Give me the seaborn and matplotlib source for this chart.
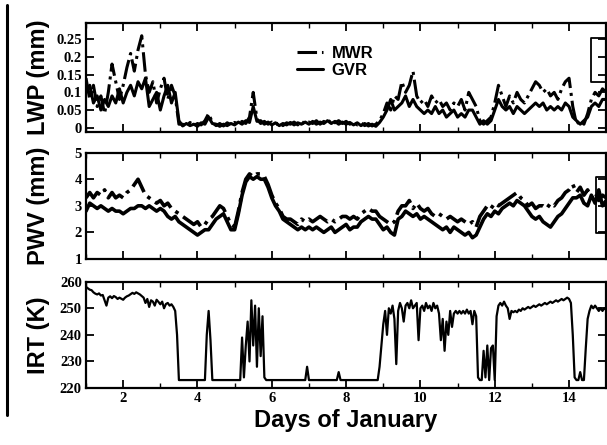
import numpy as np
import pandas as pd
import matplotlib
matplotlib.use("Agg")
import matplotlib.pyplot as plt
from matplotlib.lines import Line2D
from matplotlib.ticker import MultipleLocator
from matplotlib.font_manager import FontProperties
import seaborn as sns

# ---- time axes (days of January) ----
days = np.round(np.arange(1.0, 15.0001, 0.1), 1)        # 0.1-day sampling for LWP / PWV
irt_days = np.round(np.arange(1.0, 15.0001, 0.05), 2)   # 0.05-day sampling for IRT

# ---- liquid water path (mm) ----
lwp_mwr = [
    0.14, 0.08, 0.12, 0.06, 0.09, 0.04, 0.10, 0.18, 0.13, 0.08,
    0.12, 0.17, 0.21, 0.16, 0.22, 0.26, 0.15, 0.10, 0.13, 0.07,
    0.11, 0.14, 0.08, 0.12, 0.09, 0.01, 0.010, 0.005, 0.015, 0.006,
    0.012, 0.008, 0.020, 0.040, 0.015, 0.006, 0.012, 0.005, 0.014, 0.008,
    0.015, 0.010, 0.018, 0.012, 0.030, 0.100, 0.025, 0.012, 0.018, 0.010,
    0.016, 0.008, 0.015, 0.006, 0.014, 0.010, 0.016, 0.008, 0.018, 0.010,
    0.016, 0.012, 0.020, 0.010, 0.018, 0.012, 0.022, 0.014, 0.020, 0.012,
    0.018, 0.010, 0.016, 0.008, 0.014, 0.006, 0.012, 0.005, 0.010, 0.020,
    0.04, 0.07, 0.05, 0.09, 0.08, 0.13, 0.10, 0.12, 0.16, 0.09,
    0.07, 0.08, 0.06, 0.09, 0.07, 0.08, 0.06, 0.07, 0.05, 0.07,
    0.06, 0.08, 0.05, 0.10, 0.08, 0.06, 0.02, 0.01, 0.02, 0.03,
    0.07, 0.12, 0.09, 0.06, 0.09, 0.07, 0.10, 0.08, 0.07, 0.09,
    0.11, 0.13, 0.12, 0.10, 0.11, 0.09, 0.10, 0.08, 0.11, 0.13,
    0.14, 0.06, 0.01, 0.02, 0.01, 0.04, 0.08, 0.10, 0.09, 0.11,
    0.10,
]
lwp_gvr = [
    0.10, 0.12, 0.07, 0.09, 0.05, 0.08, 0.06, 0.09, 0.07, 0.11,
    0.07, 0.10, 0.12, 0.09, 0.13, 0.11, 0.14, 0.06, 0.08, 0.10,
    0.05, 0.09, 0.12, 0.07, 0.10, 0.02, 0.005, 0.012, 0.006, 0.010,
    0.004, 0.014, 0.010, 0.030, 0.012, 0.010, 0.004, 0.010, 0.006, 0.012,
    0.008, 0.016, 0.010, 0.020, 0.015, 0.060, 0.018, 0.020, 0.010, 0.016,
    0.008, 0.014, 0.006, 0.012, 0.008, 0.015, 0.008, 0.014, 0.010, 0.016,
    0.010, 0.018, 0.010, 0.016, 0.012, 0.020, 0.012, 0.018, 0.010, 0.016,
    0.010, 0.015, 0.008, 0.014, 0.006, 0.012, 0.005, 0.010, 0.004, 0.015,
    0.03, 0.05, 0.08, 0.05, 0.06, 0.07, 0.09, 0.06, 0.08, 0.06,
    0.05, 0.04, 0.05, 0.04, 0.06, 0.04, 0.05, 0.03, 0.04, 0.05,
    0.03, 0.04, 0.03, 0.05, 0.05, 0.03, 0.01, 0.02, 0.01, 0.02,
    0.05, 0.08, 0.06, 0.05, 0.06, 0.04, 0.06, 0.05, 0.04, 0.05,
    0.06, 0.07, 0.06, 0.07, 0.05, 0.06, 0.05, 0.06, 0.05, 0.07,
    0.06, 0.03, 0.02, 0.01, 0.02, 0.03, 0.06, 0.07, 0.06, 0.08,
    0.08,
]
# instrument flag bracket at the end of the LWP record
lwp_flag_days = [15.3, 14.59, 14.59, 15.3]
lwp_flag_vals = [0.253, 0.253, 0.128, 0.128]

# ---- precipitable water vapour (mm) ----
pwv_mwr = [
    3.3, 3.5, 3.3, 3.5, 3.4, 3.6, 3.3, 3.5, 3.3, 3.4,
    3.3, 3.5, 3.6, 3.8, 4.0, 3.7, 3.4, 3.3, 3.2, 3.1,
    3.2, 3.0, 3.1, 2.9, 2.8, 2.7, 2.6, 2.5, 2.4, 2.3,
    2.4, 2.2, 2.3, 2.5, 2.6, 2.8, 3.0, 2.9, 2.6, 2.3,
    2.2, 2.8, 3.5, 4.0, 4.2, 4.1, 4.2, 4.2, 4.1, 3.8,
    3.4, 3.1, 2.9, 2.6, 2.5, 2.5, 2.4, 2.3, 2.5, 2.4,
    2.5, 2.4, 2.5, 2.6, 2.5, 2.4, 2.5, 2.4, 2.5, 2.6,
    2.6, 2.5, 2.6, 2.5, 2.7, 2.8, 2.9, 2.8, 2.8, 2.6,
    2.5, 2.4, 2.3, 2.4, 2.8, 3.0, 3.0, 3.2, 2.9, 3.1,
    2.9, 2.8, 2.9, 2.7, 2.6, 2.7, 2.6, 2.5, 2.6, 2.5,
    2.4, 2.5, 2.4, 2.3, 2.4, 2.2, 2.6, 2.8, 3.0, 2.9,
    3.1, 3.0, 3.1, 3.2, 3.3, 3.4, 3.5, 3.3, 3.2, 3.0,
    3.1, 2.9, 3.0, 3.0, 2.9, 3.1, 3.0, 3.2, 3.3, 3.5,
    3.6, 3.8, 3.5, 3.7, 3.4, 3.6, 3.3, 3.5, 3.2, 3.4,
    3.3,
]
pwv_gvr = [
    2.8, 3.1, 3.0, 2.9, 3.0, 2.9, 2.8, 2.9, 2.8, 2.8,
    2.7, 2.8, 2.9, 2.9, 3.0, 3.0, 2.9, 3.0, 2.9, 2.8,
    2.9, 2.8, 2.6, 2.5, 2.6, 2.4, 2.3, 2.2, 2.1, 2.0,
    1.9, 2.0, 2.1, 2.1, 2.3, 2.5, 2.6, 2.7, 2.4, 2.1,
    2.1, 2.7, 3.4, 3.9, 4.1, 4.0, 4.1, 4.0, 4.0, 3.7,
    3.3, 3.0, 2.8, 2.5, 2.4, 2.3, 2.2, 2.1, 2.2, 2.1,
    2.2, 2.1, 2.2, 2.1, 2.0, 2.1, 2.2, 2.0, 2.1, 2.2,
    2.3, 2.1, 2.2, 2.2, 2.4, 2.5, 2.6, 2.5, 2.5, 2.3,
    2.1, 2.2, 2.0, 1.9, 2.5, 2.6, 2.8, 2.7, 2.6, 2.7,
    2.5, 2.6, 2.5, 2.4, 2.3, 2.2, 2.1, 2.2, 2.0, 2.2,
    2.1, 2.0, 1.9, 2.0, 1.8, 1.9, 2.2, 2.5, 2.7, 2.6,
    2.8, 2.7, 2.9, 3.0, 3.1, 3.0, 3.2, 3.1, 3.0, 2.8,
    2.6, 2.5, 2.6, 2.4, 2.3, 2.2, 2.4, 2.6, 2.7, 2.9,
    3.1, 3.3, 3.3, 3.4, 3.1, 3.0, 3.4, 3.1, 3.6, 3.0,
    3.2,
]
pwv_flag_days = [15.3, 14.72, 14.72, 15.3]
pwv_flag_vals = [4.08, 4.08, 1.97, 1.97]

# ---- infrared radiometer brightness temperature (K) ----
irt = [
    258.0, 257.5, 257.0, 256.8, 256.0, 255.5, 255.2, 255.6, 254.8, 255.0,
    253.0, 251.0, 254.0, 254.5, 253.8, 254.6, 254.2, 253.5, 254.0, 253.6,
    253.2, 254.0, 254.5, 254.8, 255.3, 255.8, 255.4, 256.0, 255.6, 255.2,
    254.6, 254.0, 252.0, 253.5, 250.5, 253.0, 252.5, 251.0, 253.2, 252.4,
    251.5, 252.5, 250.0, 251.6, 252.0, 251.0, 251.5, 250.5, 249.0, 240.0,
    223.0, 223.0, 223.0, 223.0, 223.0, 223.0, 223.0, 223.0, 223.0, 223.0,
    223.0, 223.0, 223.0, 223.0, 223.0, 240.0, 249.0, 238.0, 223.0, 223.0,
    223.0, 223.0, 223.0, 223.0, 223.0, 223.0, 223.0, 223.0, 223.0, 223.0,
    223.0, 223.0, 223.0, 223.0, 239.0, 224.0, 236.0, 245.0, 230.0, 253.0,
    236.0, 251.0, 228.0, 250.0, 232.0, 247.0, 224.0, 223.0, 223.0, 223.0,
    223.0, 223.0, 223.0, 223.0, 223.0, 223.0, 223.0, 223.0, 223.0, 223.0,
    223.0, 223.0, 223.0, 223.0, 223.0, 223.0, 223.0, 223.0, 223.0, 228.0,
    223.0, 223.0, 223.0, 223.0, 223.0, 223.0, 223.0, 223.0, 223.0, 223.0,
    223.0, 223.0, 223.0, 223.0, 223.0, 223.0, 226.0, 223.0, 223.0, 223.0,
    223.0, 223.0, 223.0, 223.0, 223.0, 223.0, 223.0, 223.0, 223.0, 223.0,
    223.0, 223.0, 223.0, 223.0, 223.0, 223.0, 223.0, 223.0, 228.0, 236.0,
    244.0, 249.0, 240.0, 250.0, 248.0, 251.0, 246.0, 229.0, 249.0, 252.0,
    250.0, 245.0, 251.0, 252.0, 250.0, 253.0, 250.0, 251.0, 252.0, 238.0,
    250.0, 251.0, 249.0, 252.0, 250.0, 251.0, 249.0, 252.0, 250.0, 251.0,
    248.0, 238.0, 246.0, 234.0, 245.0, 240.0, 249.0, 243.0, 248.0, 249.0,
    248.0, 249.0, 248.0, 249.0, 248.0, 249.5, 248.0, 249.0, 244.0, 249.0,
    247.0, 224.0, 223.0, 223.0, 234.0, 224.0, 236.0, 223.0, 235.0, 236.0,
    223.0, 247.0, 251.0, 252.0, 251.0, 252.5, 251.0, 250.0, 246.0, 249.0,
    248.5, 249.0, 248.5, 249.5, 249.0, 250.0, 249.5, 250.0, 250.5, 250.0,
    250.5, 251.0, 250.5, 251.0, 251.5, 251.0, 251.5, 252.0, 251.5, 252.0,
    252.5, 252.0, 252.5, 253.0, 252.5, 253.0, 253.5, 253.0, 253.5, 254.0,
    253.5, 252.0, 240.0, 224.0, 223.0, 223.0, 226.0, 223.0, 223.0, 235.0,
    246.0, 249.0, 251.0, 250.0, 251.0, 250.0, 249.0, 250.0, 249.0, 250.0,
    249.5,
]

# ---- axis ticks / labels ----
lwp_ticks = [0, 0.05, 0.1, 0.15, 0.2, 0.25]
lwp_tick_labels = ["0", "0.05", "0.1", "0.15", "0.2", "0.25"]
pwv_ticks = [1, 2, 3, 4, 5]
pwv_tick_labels = ["1", "2", "3", "4", "5"]
irt_ticks = [220, 230, 240, 250, 260]
irt_tick_labels = ["220", "230", "240", "250", "260"]
day_ticks = [2, 4, 6, 8, 10, 12, 14]
day_tick_labels = ["2", "4", "6", "8", "10", "12", "14"]

lwp_df = pd.DataFrame({"day": days, "MWR": lwp_mwr, "GVR": lwp_gvr})
pwv_df = pd.DataFrame({"day": days, "MWR": pwv_mwr, "GVR": pwv_gvr})
irt_df = pd.DataFrame({"day": irt_days, "IRT": irt})
lwp_flag = pd.DataFrame({"day": lwp_flag_days, "val": lwp_flag_vals})
pwv_flag = pd.DataFrame({"day": pwv_flag_days, "val": pwv_flag_vals})

sns.set_style("ticks")
plt.rcParams.update({
    "font.family": ["Liberation Sans", "DejaVu Sans"],
    "axes.linewidth": 1.6,
    "axes.edgecolor": "black",
    "axes.labelcolor": "black",
    "text.color": "black",
    "xtick.color": "black",
    "ytick.color": "black",
})

tick_font = FontProperties(family="Liberation Serif", weight="bold", size=10.5)
label_font = FontProperties(family="Liberation Sans", weight="bold", size=17)
legend_font = FontProperties(family="Liberation Sans", weight="bold", size=12)

fig = plt.figure(figsize=(6.07, 4.45), dpi=100)
ax1 = fig.add_axes([0.1417, 0.7034, 0.857, 0.2449])
ax2 = fig.add_axes([0.1417, 0.418, 0.857, 0.239])
ax3 = fig.add_axes([0.1417, 0.128, 0.857, 0.239])

sns.lineplot(data=lwp_df, x="day", y="MWR", ax=ax1, color="black", lw=2.2,
             linestyle="-.", estimator=None, label="MWR")
sns.lineplot(data=lwp_df, x="day", y="GVR", ax=ax1, color="black", lw=2.2,
             linestyle="-", estimator=None, label="GVR")
sns.lineplot(data=lwp_flag, x="day", y="val", ax=ax1, color="black", lw=1.3,
             sort=False, estimator=None, legend=False)
sns.lineplot(data=pwv_df, x="day", y="MWR", ax=ax2, color="black", lw=2.6,
             linestyle="-.", estimator=None, legend=False)
sns.lineplot(data=pwv_df, x="day", y="GVR", ax=ax2, color="black", lw=2.6,
             linestyle="-", estimator=None, legend=False)
sns.lineplot(data=pwv_flag, x="day", y="val", ax=ax2, color="black", lw=1.3,
             sort=False, estimator=None, legend=False)
sns.lineplot(data=irt_df, x="day", y="IRT", ax=ax3, color="black", lw=1.6,
             estimator=None, legend=False)

ax1.set_ylim(-0.012, 0.296)
ax1.set_yticks(lwp_ticks, labels=lwp_tick_labels, fontproperties=tick_font)
ax2.set_ylim(1, 5)
ax2.set_yticks(pwv_ticks, labels=pwv_tick_labels, fontproperties=tick_font)
ax3.set_ylim(220, 260)
ax3.set_yticks(irt_ticks, labels=irt_tick_labels, fontproperties=tick_font)

for ax in (ax1, ax2, ax3):
    ax.set_xlim(1, 15)
    ax.set_xticks(day_ticks, labels=day_tick_labels, fontproperties=tick_font)
    ax.xaxis.set_minor_locator(MultipleLocator(1))
    ax.tick_params(which="both", direction="in", top=True, right=True, colors="black")
    ax.tick_params(which="major", length=6, width=1.3, pad=3)
    ax.tick_params(which="minor", length=3.5, width=1.0)
    ax.set_xlabel("")
    for sp in ax.spines.values():
        sp.set_visible(True)
        sp.set_linewidth(1.6)

ax1.tick_params(labelbottom=False)
ax2.tick_params(labelbottom=False)

ax1.set_ylabel("LWP (mm)", fontproperties=label_font)
ax2.set_ylabel("PWV (mm)", fontproperties=label_font)
ax3.set_ylabel("IRT (K)", fontproperties=label_font)
for ax in (ax1, ax2, ax3):
    ax.yaxis.set_label_coords(-0.07, 0.5)
ax3.set_xlabel("Days of January", fontproperties=label_font, labelpad=3)

ax1.legend(loc="upper left", bbox_to_anchor=(0.405, 0.79), frameon=False,
           prop=legend_font, handlelength=1.6, handletextpad=0.5,
           labelspacing=0.1, borderpad=0, borderaxespad=0)

# vertical rule along the left margin
fig.add_artist(Line2D([0.0115, 0.0115], [1 - 5 / 445, 1 - 415 / 445],
                      transform=fig.transFigure, color="black", lw=2.2))

fig.savefig("out.png", dpi=100)
